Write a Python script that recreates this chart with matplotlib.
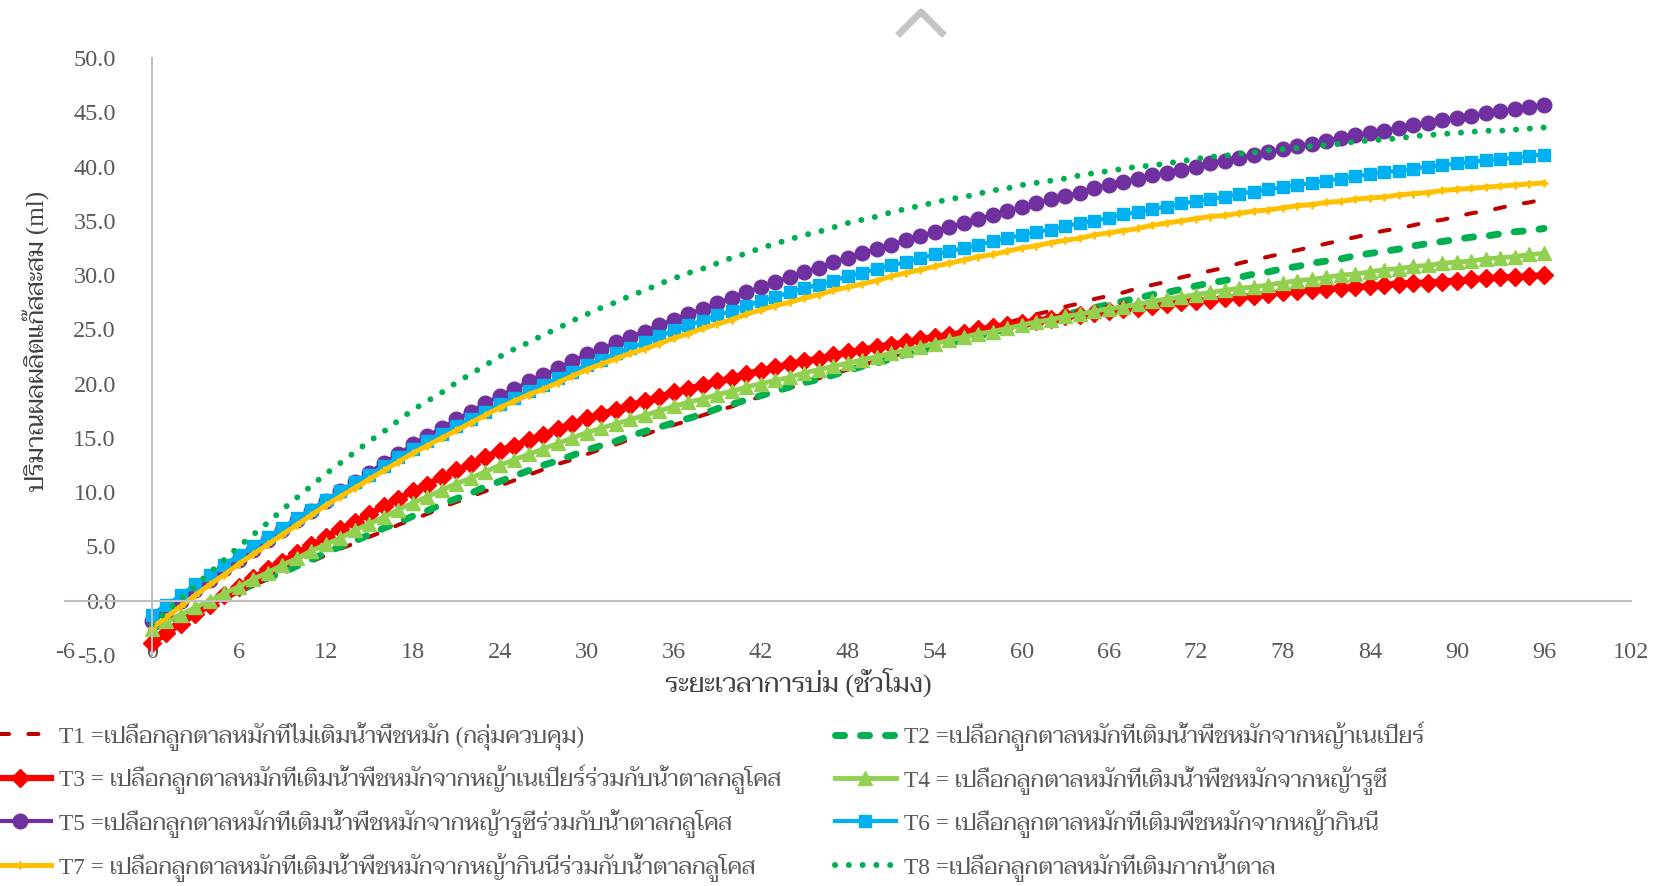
#cumulative gas production of fermented palm peel (T1-T8)

#importing libaries
import matplotlib
matplotlib.use("Agg")
import matplotlib.pyplot as plt
from matplotlib.lines import Line2D
import numpy as np

#fonts: latin text in a Times-like serif, thai falls back to Taviraj
plt.rcParams['font.family'] = ['Liberation Serif', 'Taviraj']

#data (ml), one value per hour from 0 to 96
t1 = [-2.7, -2.1, -1.5, -0.9, -0.3, 0.2, 0.8, 1.4, 2.0, 2.5, 3.1, 3.6, 4.2, 4.8, 5.3, 5.9, 6.4, 7.0, 7.5,
      8.0, 8.6, 9.1, 9.6, 10.1, 10.6, 11.1, 11.6, 12.1, 12.6, 13.0, 13.5, 14.0, 14.4, 14.9, 15.3, 15.8, 16.2,
      16.6, 17.1, 17.5, 17.9, 18.4, 18.8, 19.2, 19.6, 20.1, 20.5, 20.9, 21.3, 21.7, 22.1, 22.5, 22.9, 23.3,
      23.7, 24.1, 24.5, 24.8, 25.2, 25.6, 26.0, 26.4, 26.7, 27.1, 27.4, 27.8, 28.1, 28.4, 28.8, 29.1, 29.4,
      29.8, 30.1, 30.4, 30.7, 31.1, 31.4, 31.7, 32.0, 32.3, 32.6, 32.9, 33.2, 33.5, 33.8, 34.1, 34.3, 34.6,
      34.9, 35.1, 35.4, 35.7, 35.9, 36.2, 36.5, 36.7, 37.0]
t2 = [-2.6, -2.0, -1.4, -0.8, -0.3, 0.3, 0.9, 1.5, 2.1, 2.6, 3.2, 3.8, 4.4, 5.0, 5.5, 6.1, 6.7, 7.2, 7.8,
      8.3, 8.9, 9.4, 9.9, 10.5, 11.0, 11.5, 12.0, 12.5, 12.9, 13.4, 13.9, 14.3, 14.7, 15.2, 15.6, 16.0, 16.4,
      16.8, 17.2, 17.7, 18.1, 18.5, 18.9, 19.3, 19.7, 20.1, 20.4, 20.8, 21.2, 21.6, 21.9, 22.3, 22.7, 23.0,
      23.4, 23.7, 24.1, 24.4, 24.7, 25.1, 25.4, 25.7, 26.0, 26.3, 26.7, 27.0, 27.3, 27.6, 27.9, 28.2, 28.4,
      28.7, 29.0, 29.3, 29.5, 29.8, 30.1, 30.3, 30.6, 30.8, 31.1, 31.3, 31.5, 31.8, 32.0, 32.2, 32.4, 32.7,
      32.9, 33.1, 33.3, 33.5, 33.6, 33.8, 34.0, 34.1, 34.3]
t3 = [-3.9, -3.0, -2.1, -1.2, -0.4, 0.5, 1.3, 2.1, 2.9, 3.6, 4.4, 5.1, 5.9, 6.6, 7.3, 8.0, 8.7, 9.4, 10.1,
      10.7, 11.4, 12.0, 12.6, 13.2, 13.8, 14.3, 14.8, 15.3, 15.8, 16.3, 16.8, 17.2, 17.6, 18.0, 18.4, 18.8,
      19.2, 19.5, 19.9, 20.2, 20.5, 20.9, 21.2, 21.5, 21.8, 22.1, 22.3, 22.6, 22.9, 23.1, 23.4, 23.6, 23.8,
      24.1, 24.3, 24.5, 24.7, 25.0, 25.2, 25.4, 25.6, 25.8, 26.0, 26.2, 26.3, 26.5, 26.7, 26.9, 27.0, 27.2,
      27.3, 27.5, 27.6, 27.7, 27.9, 28.0, 28.1, 28.3, 28.4, 28.5, 28.6, 28.7, 28.8, 28.9, 29.0, 29.1, 29.2,
      29.3, 29.3, 29.4, 29.5, 29.6, 29.7, 29.8, 29.8, 29.9, 30.0]
t4 = [-2.6, -1.9, -1.3, -0.6, 0.0, 0.7, 1.3, 2.0, 2.6, 3.3, 3.9, 4.6, 5.2, 5.8, 6.5, 7.1, 7.7, 8.4, 9.0,
      9.6, 10.2, 10.8, 11.3, 11.9, 12.5, 13.0, 13.5, 14.0, 14.5, 15.0, 15.5, 15.9, 16.3, 16.7, 17.1, 17.5,
      17.9, 18.3, 18.6, 19.0, 19.3, 19.7, 20.0, 20.3, 20.6, 21.0, 21.3, 21.6, 21.9, 22.2, 22.5, 22.8, 23.1,
      23.4, 23.7, 24.0, 24.3, 24.6, 24.8, 25.1, 25.4, 25.7, 25.9, 26.2, 26.4, 26.7, 26.9, 27.1, 27.3, 27.6,
      27.8, 28.0, 28.2, 28.4, 28.6, 28.8, 28.9, 29.1, 29.3, 29.5, 29.6, 29.8, 30.0, 30.1, 30.3, 30.5, 30.6,
      30.8, 30.9, 31.1, 31.2, 31.3, 31.5, 31.6, 31.7, 31.9, 32.0]
t5 = [-1.9, -0.9, 0.0, 1.0, 1.9, 2.9, 3.8, 4.7, 5.6, 6.5, 7.4, 8.3, 9.2, 10.1, 10.9, 11.8, 12.7, 13.5, 14.4,
      15.2, 15.9, 16.7, 17.4, 18.2, 18.9, 19.5, 20.2, 20.8, 21.4, 22.1, 22.7, 23.2, 23.8, 24.3, 24.8, 25.4,
      25.9, 26.4, 26.9, 27.4, 27.9, 28.4, 28.9, 29.4, 29.8, 30.3, 30.7, 31.2, 31.6, 32.0, 32.4, 32.8, 33.2,
      33.6, 34.0, 34.4, 34.8, 35.2, 35.5, 35.9, 36.3, 36.6, 37.0, 37.3, 37.6, 38.0, 38.3, 38.6, 38.9, 39.2,
      39.4, 39.7, 40.0, 40.3, 40.5, 40.8, 41.1, 41.3, 41.6, 41.9, 42.1, 42.4, 42.6, 42.9, 43.1, 43.3, 43.6,
      43.8, 44.0, 44.3, 44.5, 44.7, 44.9, 45.1, 45.3, 45.5, 45.7]
t6 = [-1.3, -0.4, 0.5, 1.5, 2.4, 3.3, 4.2, 5.0, 5.9, 6.7, 7.6, 8.4, 9.3, 10.1, 10.9, 11.6, 12.4, 13.2, 14.0,
      14.7, 15.4, 16.1, 16.7, 17.4, 18.1, 18.7, 19.3, 19.9, 20.5, 21.1, 21.7, 22.2, 22.8, 23.3, 23.8, 24.4,
      24.9, 25.4, 25.8, 26.3, 26.7, 27.2, 27.6, 28.0, 28.4, 28.8, 29.1, 29.5, 29.9, 30.2, 30.6, 30.9, 31.2,
      31.6, 31.9, 32.2, 32.5, 32.8, 33.1, 33.4, 33.7, 34.0, 34.2, 34.5, 34.8, 35.0, 35.3, 35.6, 35.8, 36.1,
      36.3, 36.6, 36.8, 37.0, 37.2, 37.5, 37.7, 37.9, 38.1, 38.3, 38.5, 38.7, 38.9, 39.1, 39.3, 39.5, 39.6,
      39.8, 40.0, 40.1, 40.3, 40.4, 40.6, 40.7, 40.8, 41.0, 41.1]
t7 = [-2.5, -1.5, -0.5, 0.5, 1.5, 2.4, 3.4, 4.3, 5.2, 6.1, 7.0, 7.9, 8.8, 9.6, 10.4, 11.2, 12.0, 12.8, 13.6,
      14.3, 15.0, 15.7, 16.4, 17.1, 17.8, 18.4, 19.0, 19.5, 20.1, 20.7, 21.3, 21.8, 22.3, 22.8, 23.2, 23.7,
      24.2, 24.6, 25.1, 25.5, 25.9, 26.4, 26.8, 27.2, 27.5, 27.9, 28.2, 28.6, 28.9, 29.2, 29.5, 29.9, 30.2,
      30.5, 30.8, 31.1, 31.4, 31.7, 31.9, 32.2, 32.5, 32.7, 33.0, 33.2, 33.4, 33.7, 33.9, 34.1, 34.3, 34.6,
      34.8, 35.0, 35.2, 35.4, 35.5, 35.7, 35.9, 36.0, 36.2, 36.4, 36.5, 36.7, 36.8, 37.0, 37.1, 37.2, 37.4,
      37.5, 37.6, 37.8, 37.9, 38.0, 38.1, 38.2, 38.3, 38.4, 38.5]
t8 = [-2.2, -1.0, 0.2, 1.4, 2.6, 3.8, 5.0, 6.1, 7.2, 8.4, 9.5, 10.6, 11.7, 12.7, 13.7, 14.7, 15.6, 16.6, 17.6,
      18.4, 19.2, 20.1, 20.9, 21.7, 22.5, 23.2, 23.8, 24.5, 25.1, 25.8, 26.4, 27.0, 27.5, 28.1, 28.6, 29.2,
      29.7, 30.2, 30.6, 31.1, 31.6, 32.0, 32.5, 32.9, 33.3, 33.7, 34.0, 34.4, 34.8, 35.1, 35.4, 35.8, 36.1,
      36.4, 36.7, 37.0, 37.2, 37.5, 37.8, 38.0, 38.3, 38.5, 38.7, 38.9, 39.2, 39.4, 39.6, 39.8, 40.0, 40.1,
      40.3, 40.5, 40.7, 40.9, 41.0, 41.2, 41.3, 41.5, 41.6, 41.7, 41.9, 42.0, 42.1, 42.3, 42.4, 42.5, 42.6,
      42.8, 42.9, 43.0, 43.1, 43.2, 43.3, 43.3, 43.4, 43.5, 43.6]

labels = ['T1 =เปลือกลูกตาลหมักที่ไม่เติมน้ำพืชหมัก (กลุ่มควบคุม)',
          'T2 =เปลือกลูกตาลหมักที่เติมน้ำพืชหมักจากหญ้าเนเปียร์',
          'T3 = เปลือกลูกตาลหมักที่เติมน้ำพืชหมักจากหญ้าเนเปียร์ร่วมกับน้ำตาลกลูโคส',
          'T4 = เปลือกลูกตาลหมักที่เติมน้ำพืชหมักจากหญ้ารูซี่',
          'T5 =เปลือกลูกตาลหมักที่เติมน้ำพืชหมักจากหญ้ารูซี่ร่วมกับน้ำตาลกลูโคส',
          'T6 = เปลือกลูกตาลหมักที่เติมพืชหมักจากหญ้ากินนี',
          'T7 = เปลือกลูกตาลหมักที่เติมน้ำพืชหมักจากหญ้ากินนีร่วมกับน้ำตาลกลูโคส',
          'T8 =เปลือกลูกตาลหมักที่เติมกากน้ำตาล']

xticks = list(range(-6, 103, 6))
yticks = [-5, 0, 5, 10, 15, 20, 25, 30, 35, 40, 45, 50]

x_title = 'ระยะเวลาการบ่ม (ชั่วโมง)'
y_title = 'ปริมาณผลผลิตแก๊สสะสม (ml)'

###

#figure and axes placed like the original
fig = plt.figure(figsize=(16.57, 8.86), dpi=100)
ax = fig.add_axes([0.0392, 0.2607, 0.9451, 0.6738])

series = [t1, t2, t3, t4, t5, t6, t7, t8]
styles = [
    dict(color='#C00000', lw=2.9, dashes=(2.5, 4.8), dash_capstyle='round'),
    dict(color='#00B050', lw=5.0, dashes=(1.3, 2.3), dash_capstyle='round'),
    dict(color='#FF0000', lw=4.5, marker='D', ms=9.5, mew=1),
    dict(color='#92D050', lw=3.5, marker='^', ms=9.5, mew=1),
    dict(color='#7030A0', lw=3.0, marker='o', ms=10.5, mew=1),
    dict(color='#00B0F0', lw=3.0, marker='s', ms=9, mew=1),
    dict(color='#FFC000', lw=3.6, marker='+', ms=6, mew=2),
    dict(color='#00B050', lw=4.3, dashes=(0.01, 2.3), dash_capstyle='round'),
]

lines = []
for vals, st, lab in zip(series, styles, labels):
    hrs = np.arange(len(vals))
    ln, = ax.plot(hrs, vals, label=lab, **st)
    lines.append(ln)

#setting x and y axis range
ax.set_xlim(-6, 102)
ax.set_ylim(-5, 50)

#axis lines through zero, like excel
for s in ['top', 'right']:
    ax.spines[s].set_visible(False)
ax.spines['left'].set_position(('data', 0))
ax.spines['bottom'].set_position(('data', 0))
for s in ['left', 'bottom']:
    ax.spines[s].set_color('#BFBFBF')
    ax.spines[s].set_linewidth(1.5)

ax.set_xticks(xticks)
ax.set_xticklabels([str(v) for v in xticks])
ax.set_yticks(yticks)
ax.set_yticklabels(['%.1f' % v for v in yticks])
ax.tick_params(axis='both', length=0, labelsize=17.5, labelcolor='#595959')
ax.tick_params(axis='x', pad=30)
ax.tick_params(axis='y', pad=26)

#naming the x and y axis
ax.set_xlabel(x_title, fontsize=19, color='#404040')
ax.xaxis.set_label_coords(0.468, -0.045)
ax.xaxis.label.set_va('center')
ax.set_ylabel(y_title, fontsize=18, color='#404040')
ax.yaxis.set_label_coords(-0.018, 0.526)
ax.yaxis.label.set_va('center')

#legend in two columns below the chart
left = [lines[i] for i in (0, 2, 4, 6)]
right = [lines[i] for i in (1, 3, 5, 7)]
leg_kw = dict(frameon=False, fontsize=16.8, handlelength=2.6, handletextpad=0.35,
              labelspacing=0.62, borderpad=0, borderaxespad=0, loc='upper left')
leg1 = fig.legend(handles=left, bbox_to_anchor=(-0.006, 0.186), **leg_kw)
leg2 = fig.legend(handles=right, bbox_to_anchor=(0.504, 0.186), **leg_kw)
for lg in (leg1, leg2):
    for t in lg.get_texts():
        t.set_color('#595959')

#small grey chevron at the top of the page
fig.add_artist(Line2D([900/1657, 921/1657, 942/1657], [1-33/886, 1-12/886, 1-33/886],
                      transform=fig.transFigure, color='#C4C4C4', lw=5))

fig.savefig('out.png', dpi=100)
